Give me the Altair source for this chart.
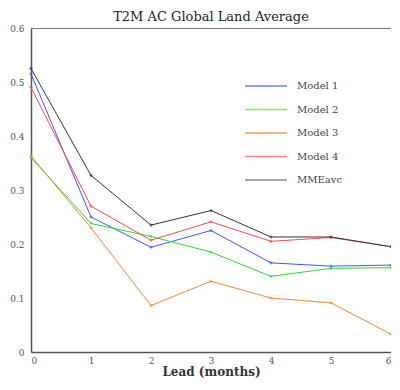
import altair as alt
import pandas as pd

leads = [0, 1, 2, 3, 4, 5, 6]
model1 = [0.515, 0.250, 0.194, 0.225, 0.165, 0.159, 0.161]
model2 = [0.360, 0.238, 0.214, 0.185, 0.140, 0.155, 0.156]
model3 = [0.363, 0.230, 0.086, 0.131, 0.100, 0.091, 0.033]
model4 = [0.490, 0.270, 0.207, 0.241, 0.205, 0.212, 0.195]
mmeavc = [0.525, 0.327, 0.235, 0.262, 0.213, 0.213, 0.195]

names = ["Model 1", "Model 2", "Model 3", "Model 4", "MMEavc"]
colors = ["#3d55ff", "#2fd62f", "#f0873a", "#ff4a4a", "#333333"]
legend_colors = ["#6e7fff", "#7de87d", "#f0a060", "#ff8080", "#8a8a8a"]

series = [model1, model2, model3, model4, mmeavc]
rows = []
for n, vals in zip(names, series):
    for x, v in zip(leads, vals):
        rows.append({"lead": x, "ac": v, "series": n})
df = pd.DataFrame(rows)
leg = pd.DataFrame({"series": names})

font = "DejaVu Serif"

x = alt.X("lead:Q", title="Lead (months)",
          scale=alt.Scale(domain=[0, 6], nice=False),
          axis=alt.Axis(values=leads, format="d", grid=False, ticks=False,
                        labelPadding=4, titlePadding=1))
y = alt.Y("ac:Q", title=None,
          scale=alt.Scale(domain=[0, 0.6], nice=False),
          axis=alt.Axis(values=[0, 0.1, 0.2, 0.3, 0.4, 0.5, 0.6], grid=False,
                        ticks=False, labelPadding=7,
                        labelExpr="datum.value == 0 ? '0' : format(datum.value, '.1f')"))
color = alt.Color("series:N", scale=alt.Scale(domain=names, range=colors), legend=None)

lines = alt.Chart(df).mark_line(strokeWidth=1).encode(x=x, y=y, color=color, detail="series:N")
pts = alt.Chart(df).mark_point(shape="cross", filled=True, size=10).encode(
    x=alt.X("lead:Q"), y=alt.Y("ac:Q"), color=color)

ly = alt.Y("series:N", sort=names, axis=None,
           scale=alt.Scale(range=[58, 152], type="point", padding=0))
lcolor = alt.Color("series:N", scale=alt.Scale(domain=names, range=legend_colors), legend=None)
leg_rules = alt.Chart(leg).mark_rule(strokeWidth=1.3).encode(
    x=alt.value(214), x2=alt.value(256), y=ly, color=lcolor)
leg_text = alt.Chart(leg).mark_text(align="left", baseline="middle", font=font,
                                    fontSize=10, color="#444").encode(
    x=alt.value(266), y=ly, text="series:N")

legend_layer = alt.layer(leg_rules, leg_text).resolve_scale(color="independent")

chart = alt.layer(lines + pts, legend_layer).resolve_scale(
    y="independent", color="independent"
).properties(
    width=360, height=324,
    title=alt.TitleParams("T2M AC Global Land Average", font=font, fontSize=13,
                          fontWeight="normal", color="#222", offset=0),
    autosize=alt.AutoSizeParams(type="none"),
    padding={"left": 23, "top": 20, "right": 0, "bottom": 26},
).configure_view(
    stroke="#777", strokeWidth=1
).configure_axis(
    labelFont=font, labelFontSize=9, labelColor="#555",
    titleFont=font, titleFontSize=12, titleFontWeight="bold", titleColor="#333",
    domainColor="#555", domainWidth=1.5
)

chart.save("out.html", embed_options={"renderer": "svg", "actions": False})
